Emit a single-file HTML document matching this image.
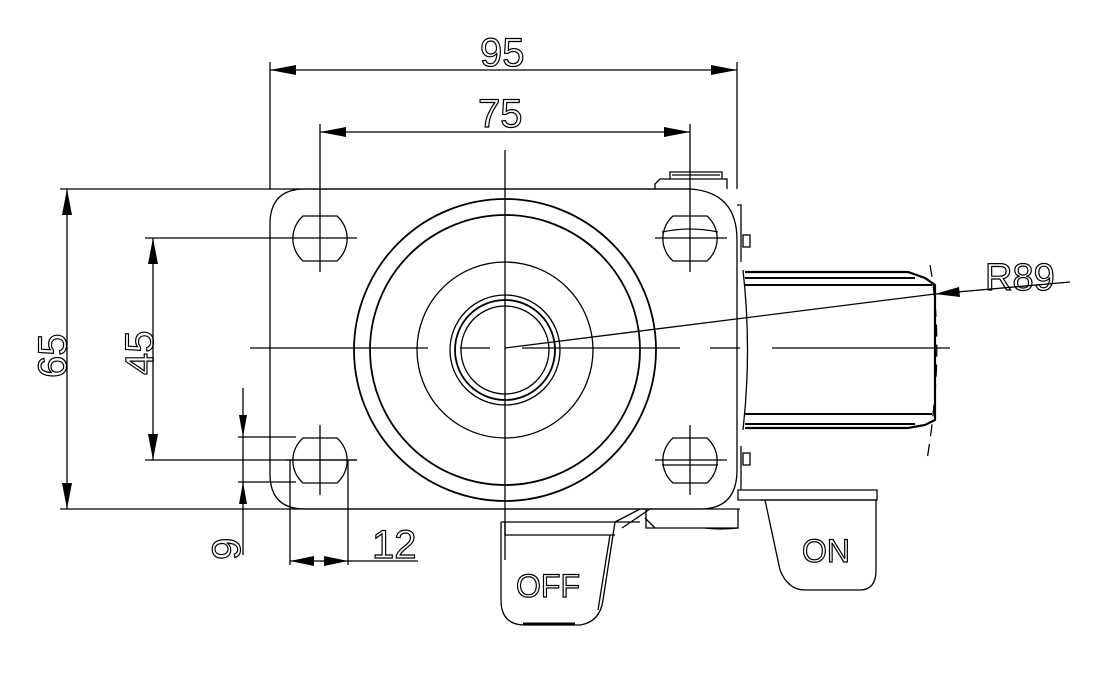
<!DOCTYPE html>
<html><head><style>html,body{margin:0;padding:0;background:#fff}</style></head><body>
<svg width="1098" height="673" viewBox="0 0 1098 673" xmlns="http://www.w3.org/2000/svg" font-family="Liberation Sans, sans-serif">
<g fill="none" stroke="#000" stroke-width="1.3">
<line x1="270" y1="62" x2="270" y2="189"/><line x1="737" y1="62" x2="737" y2="189"/>
<line x1="270" y1="70" x2="737" y2="70"/>
<line x1="320" y1="124" x2="320" y2="272"/><line x1="690" y1="124" x2="690" y2="272"/>
<line x1="320" y1="132" x2="690" y2="132"/>
<line x1="60" y1="189" x2="690" y2="189"/><line x1="60" y1="509" x2="740" y2="509"/>
<line x1="67" y1="189" x2="67" y2="509"/>
<line x1="145" y1="238" x2="357" y2="238"/><line x1="145" y1="460" x2="357" y2="460"/>
<line x1="153" y1="238" x2="153" y2="460"/>
<line x1="243" y1="388" x2="243" y2="555"/>
<line x1="238" y1="437" x2="296" y2="437"/><line x1="238" y1="482" x2="296" y2="482"/>
<line x1="290" y1="460" x2="290" y2="565"/><line x1="348" y1="460" x2="348" y2="565"/>
<line x1="290" y1="561" x2="418" y2="561"/>
<path d="M305,189 H690 Q737,192 737,240 V470 Q737,509 700,509 H305 Q270,509 270,474 V224 Q270,189 305,189 Z"/>
<path d="M303,216 H337 A30,30 0 0 1 337,261 H303 A30,30 0 0 1 303,216 Z"/>
<path d="M303,438 H337 A30,30 0 0 1 337,483 H303 A30,30 0 0 1 303,438 Z"/>
<path d="M673,216 H707 A30,30 0 0 1 707,261 H673 A30,30 0 0 1 673,216 Z"/>
<path d="M673,438 H707 A30,30 0 0 1 707,483 H673 A30,30 0 0 1 673,438 Z"/>
<path d="M662,232 Q690,226 718,232"/><line x1="662" y1="465" x2="718" y2="465"/>
<line x1="320" y1="425" x2="320" y2="495"/><line x1="690" y1="425" x2="690" y2="495"/>
<line x1="285" y1="460" x2="357" y2="460"/><line x1="655" y1="238" x2="727" y2="238"/><line x1="655" y1="460" x2="727" y2="460"/>
<circle cx="505" cy="350" r="151" stroke-width="1.8"/>
<circle cx="505" cy="350" r="135" stroke-width="1.8"/>
<circle cx="505" cy="350" r="88"/>
<circle cx="505" cy="350" r="55"/>
<circle cx="505" cy="350" r="50" stroke-width="1.8"/>
<circle cx="505" cy="350" r="44"/>
<line x1="505" y1="150" x2="505" y2="560"/>
<line x1="250" y1="348" x2="428" y2="348"/><line x1="460" y1="348" x2="490" y2="348"/>
<line x1="522" y1="348" x2="680" y2="348"/><line x1="710" y1="348" x2="740" y2="348"/><line x1="772" y1="348" x2="950" y2="348"/>
<line x1="505" y1="348" x2="935" y2="294"/><line x1="935" y1="294" x2="1070" y2="282"/>
<path d="M655,189 V184 L660,179 H727 V189"/>
<path d="M670,179 V172 H722 V179 M672,175 H720"/>
<path d="M737,205 H741 V262 M741,446 V490"/>
<rect x="743" y="235" width="7" height="12"/><rect x="743" y="453" width="7" height="12"/>
<path d="M743,270 Q752,350 743,430"/>
<path d="M745,272 H908 L925,278 L935,285 V420 L925,425 L908,428 H745" stroke-width="2.2"/>
<line x1="745" y1="278" x2="915" y2="278" stroke-width="2"/>
<line x1="745" y1="285" x2="932" y2="285" stroke-width="2"/>
<line x1="745" y1="414" x2="932" y2="414" stroke-width="2"/>
<line x1="745" y1="424" x2="915" y2="424" stroke-width="2"/>
<path d="M930,265 Q945,348 927,460" stroke-dasharray="12,8"/>
<path d="M646,509 V528 H738 V509"/>
<path d="M655,528 L645,518 M705,528 Q720,530 738,528"/>
<path d="M615,522 L640,509 M622,528 L650,509 M501,522 H640"/>
<path d="M738,490 H877 V500 H738 Z"/>
<path d="M501,522 V600 Q501,625 525,625 H580 Q600,622 603,600 L615,522"/>
<path d="M505,522 V535 H615"/>
<path d="M610,535 L598,610"/>
<line x1="523" y1="624" x2="575" y2="624" stroke-width="3"/>
<path d="M765,500 L780,570 Q788,590 805,590 H860 Q876,590 876,570 V500"/>
<line x1="760" y1="500" x2="877" y2="500"/>
</g>
<g fill="#000">
<path d="M270,70 l26,-5 v10 z"/><path d="M737,70 l-26,-5 v10 z"/>
<path d="M320,132 l26,-5 v10 z"/><path d="M690,132 l-26,-5 v10 z"/>
<path d="M67,189 l-5,26 h10 z"/><path d="M67,509 l-5,-26 h10 z"/>
<path d="M153,238 l-5,26 h10 z"/><path d="M153,460 l-5,-26 h10 z"/>
<path d="M243,437 l-4,-22 h8 z"/><path d="M243,482 l-4,22 h8 z"/>
<path d="M290,561 l24,-5 v10 z"/><path d="M348,561 l-24,-5 v10 z"/>
<path d="M935,294 l24,-7 l1,10 z"/>
</g>
<g fill="none" stroke="#000" stroke-width="1.2" font-size="40">
<text x="480" y="66">95</text>
<text x="478" y="127">75</text>
<text x="985" y="290" font-size="38">R89</text>
<text x="372" y="558">12</text>
<text transform="translate(66,378) rotate(-90)">65</text>
<text transform="translate(153,375) rotate(-90)">45</text>
<text transform="translate(240,560) rotate(-90)">9</text>
<text x="516" y="597" font-size="32">OFF</text>
<text x="802" y="562" font-size="32">ON</text>
</g>
</svg>
</body></html>
